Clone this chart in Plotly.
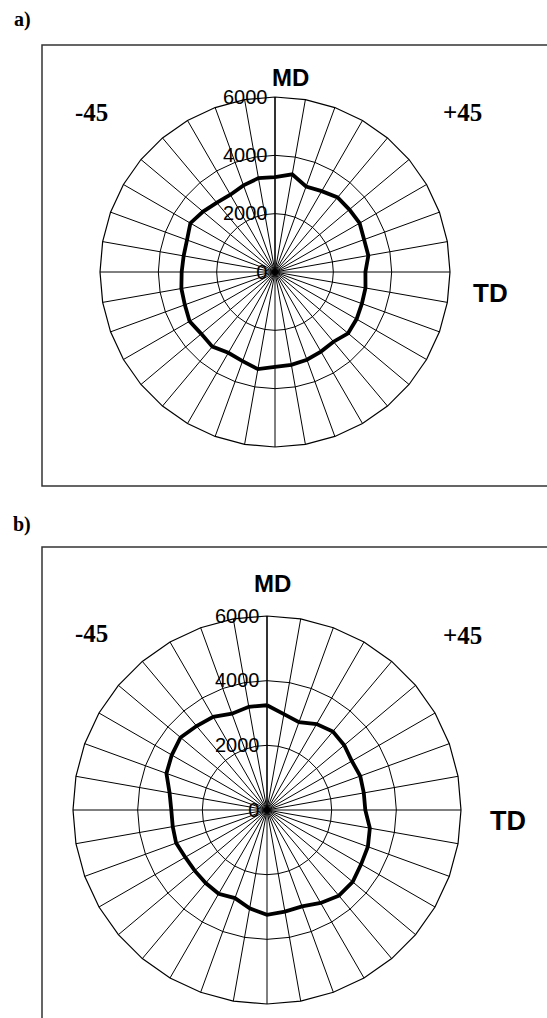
import plotly.graph_objects as go

# ---- data ----
angles = [str(a) for a in range(0, 360, 10)]  # MD at 0, clockwise
values_a = [3250, 3400, 3120, 3200, 3340, 3330, 3350, 3250, 3250,
            3100, 3150, 3170, 3230, 3270, 3120, 3150, 3200, 3230,
            3250, 3380, 3250, 3200, 3340, 3300, 3380, 3290, 3260,
            3200, 3180, 3210, 3350, 3220, 3100, 3060, 3160, 3270]
values_b = [3240, 3010, 2890, 3070, 3170, 3120, 3030, 3070, 3040,
            3040, 3230, 3320, 3360, 3460, 3460, 3320, 3170, 3190,
            3240, 3090, 2900, 2990, 2950, 2920, 2920, 2990, 2960,
            2960, 3060, 3310, 3400, 3490, 3390, 3330, 3170, 3240]
radial_ticks = [0, 2000, 4000, 6000]
radial_max = 6000

W, H = 547, 1018

def px(x):
    return x / W

def py(y):
    return 1 - y / H

fig = go.Figure()
for name, vals in (("polar", values_a), ("polar2", values_b)):
    fig.add_trace(go.Scatterpolar(
        r=vals + [vals[0]], theta=angles + [angles[0]],
        mode="lines", line=dict(color="black", width=3.8),
        subplot=name, showlegend=False, hoverinfo="skip"))

def polar_layout(cx, cy, rad):
    return dict(
        domain=dict(x=[px(cx - rad), px(cx + rad)], y=[py(cy + rad), py(cy - rad)]),
        bgcolor="white",
        gridshape="linear",
        hole=0,
        radialaxis=dict(range=[0, radial_max], tickvals=radial_ticks,
                        ticktext=[str(v) for v in radial_ticks],
                        angle=90, tickangle=90, side="counterclockwise",
                        showline=True, linecolor="black", linewidth=1.2,
                        gridcolor="black", gridwidth=1.2, ticks="",
                        tickfont=dict(family="Liberation Sans", size=20, color="black")),
        angularaxis=dict(type="category", categoryarray=angles,
                         direction="clockwise", rotation=90,
                         showticklabels=False, ticks="",
                         showline=True, linecolor="black", linewidth=1.2,
                         gridcolor="black", gridwidth=1.1),
    )

fig.update_layout(
    width=W, height=H, margin=dict(l=0, r=0, t=0, b=0),
    paper_bgcolor="white", plot_bgcolor="white",
    polar=polar_layout(275, 272, 175),
    polar2=polar_layout(267, 810, 194),
)

# frames
fig.add_shape(type="rect", xref="paper", yref="paper",
              x0=px(42), x1=px(600), y0=py(486), y1=py(45),
              line=dict(color="#333", width=1.5))
fig.add_shape(type="rect", xref="paper", yref="paper",
              x0=px(42), x1=px(600), y0=py(1060), y1=py(547),
              line=dict(color="#333", width=1.5))

def label(text, x, y, size, family="Liberation Sans", bold=True):
    fig.add_annotation(x=px(x), y=py(y), xref="paper", yref="paper",
                       text=f"<b>{text}</b>" if bold else text, showarrow=False,
                       xanchor="center", yanchor="middle",
                       font=dict(family=family, size=size, color="black"))

label("a)", 22, 20, 20, family="Liberation Serif")
label("b)", 22, 524, 20, family="Liberation Serif")
label("MD", 290, 78, 24)
label("-45", 91, 113, 25, family="Liberation Serif")
label("+45", 462, 113, 25, family="Liberation Serif")
label("TD", 490, 293, 26)
label("MD", 272, 583, 24)
label("-45", 91, 633, 25, family="Liberation Serif")
label("+45", 462, 635, 25, family="Liberation Serif")
label("TD", 508, 821, 27)

fig.write_html("out.html", config={"displayModeBar": False},
               post_script="document.body.style.margin='0';")
